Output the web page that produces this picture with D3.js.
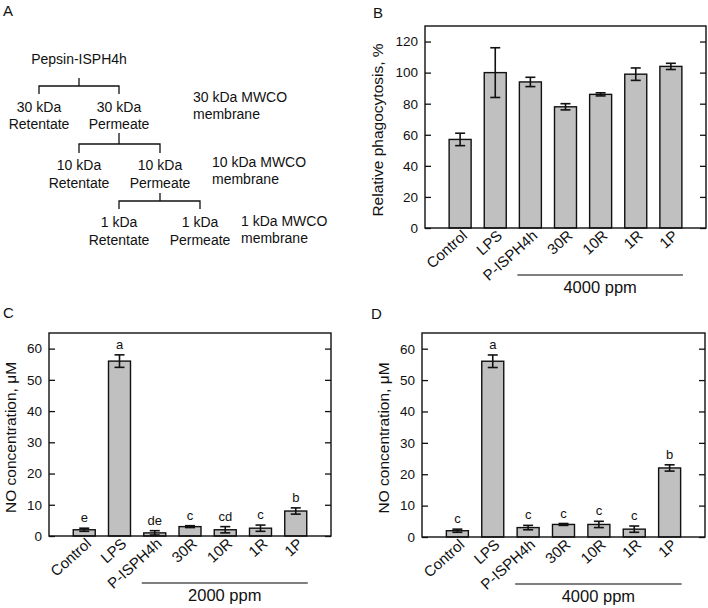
<!DOCTYPE html>
<html>
<head>
<meta charset="utf-8">
<script src="https://cdn.jsdelivr.net/npm/d3@7"></script>
<style>
  body { margin: 0; background: #ffffff; }
  svg text { font-family: "Liberation Sans", Arial, sans-serif; fill: #111; }
</style>
</head>
<body>
<div id="chart"></div>
<script>
// categories shared by panels B, C, D
const categories = ['Control', 'LPS', 'P-ISPH4h', '30R', '10R', '1R', '1P'];

// panel B: relative phagocytosis (%)
const phagoMean = [57, 100, 94, 78, 86, 99, 104];
const phagoErr = [4, 16, 3, 2, 1, 4, 2];
const phagoTicks = [0, 20, 40, 60, 80, 100, 120];

// panel C: NO concentration at 2000 ppm (uM)
const no2000Mean = [2, 56, 1, 3, 2, 2.5, 8];
const no2000Err = [0.5, 2, 0.7, 0.3, 1, 1, 1];
const no2000Letters = ['e', 'a', 'de', 'c', 'cd', 'c', 'b'];

// panel D: NO concentration at 4000 ppm (uM)
const no4000Mean = [2, 56, 3, 4, 4, 2.5, 22];
const no4000Err = [0.5, 2, 0.7, 0.3, 1, 1, 1];
const no4000Letters = ['c', 'a', 'c', 'c', 'c', 'c', 'b'];

const noTicks = [0, 10, 20, 30, 40, 50, 60];

// panel A: fractionation scheme
const splitLevels = [
  { parent: 'Pepsin-ISPH4h', left: ['30 kDa', 'Retentate'], right: ['30 kDa', 'Permeate'], membrane: ['30 kDa MWCO', 'membrane'] },
  { left: ['10 kDa', 'Retentate'], right: ['10 kDa', 'Permeate'], membrane: ['10 kDa MWCO', 'membrane'] },
  { left: ['1 kDa', 'Retentate'], right: ['1 kDa', 'Permeate'], membrane: ['1 kDa MWCO', 'membrane'] }
];

(function() {
  'use strict';

  const svg = d3.select('#chart').append('svg')
    .attr('width', 708)
    .attr('height', 608)
    .style('background', '#ffffff');

  /**
   * Panel label (A, B, C, D)
   */
  function panelLabel(txt, x, y) {
    svg.append('text')
      .attr('x', x).attr('y', y)
      .attr('font-size', 15)
      .text(txt);
  }

  /**
   * Panel A: tree of membrane fractions
   */
  function drawScheme() {
    const g = svg.append('g');
    // geometry for each split: stem x, stem top, bar y, left x, right x
    const geo = [
      { stem: 79, top: 78, bar: 86, lx: 39, rx: 119, drop: 94, row: 111.5, memX: 193, memY: 102 },
      { stem: 119, top: 133, bar: 144, lx: 79, rx: 160, drop: 153, row: 170, memX: 212, memY: 167 },
      { stem: 160, top: 193, bar: 201, lx: 119, rx: 200, drop: 209, row: 227, memX: 241, memY: 226 }
    ];

    g.append('text')
      .attr('x', geo[0].stem).attr('y', 64)
      .attr('text-anchor', 'middle')
      .attr('font-size', 14)
      .text(splitLevels[0].parent);

    splitLevels.forEach(function(level, i) {
      const p = geo[i];
      const line = d3.line();
      g.append('path')
        .attr('d', line([[p.stem, p.top], [p.stem, p.bar]]))
        .attr('stroke', '#111').attr('stroke-width', 1.3).attr('fill', 'none');
      g.append('path')
        .attr('d', line([[p.lx, p.drop], [p.lx, p.bar], [p.rx, p.bar], [p.rx, p.drop]]))
        .attr('stroke', '#111').attr('stroke-width', 1.3).attr('fill', 'none');

      [[p.lx, level.left], [p.rx, level.right]].forEach(function(d) {
        const t = g.append('text')
          .attr('text-anchor', 'middle')
          .attr('font-size', 14);
        d[1].forEach(function(s, k) {
          t.append('tspan').attr('x', d[0]).attr('y', p.row + k * 17.5).text(s);
        });
      });

      const m = g.append('text').attr('font-size', 14);
      level.membrane.forEach(function(s, k) {
        m.append('tspan').attr('x', p.memX).attr('y', p.memY + k * 16.5).text(s);
      });
    });
  }

  /**
   * Bar chart panel with error bars
   */
  function drawBars(cfg) {
    const g = svg.append('g');
    const x = d3.scaleLinear().domain([0, categories.length + 1]).range([cfg.left, cfg.right]);
    const y = d3.scaleLinear().domain(cfg.domain).range([cfg.bottom, cfg.top]);
    const barW = 22;

    // inward ticks on both sides
    g.append('g')
      .attr('transform', `translate(${cfg.left},0)`)
      .call(d3.axisLeft(y).tickValues(cfg.ticks).tickSize(-6).tickPadding(7))
      .call(a => a.select('.domain').remove())
      .call(a => a.selectAll('line').attr('stroke', '#111').attr('stroke-width', 1.3))
      .call(a => a.selectAll('text')
        .attr('font-size', 13.5)
        .attr('font-family', '"Liberation Sans", Arial, sans-serif')
        .attr('fill', '#111'));

    g.append('g')
      .attr('transform', `translate(${cfg.right},0)`)
      .call(d3.axisRight(y).tickValues(cfg.ticks).tickSize(-6).tickFormat(''))
      .call(a => a.select('.domain').remove())
      .call(a => a.selectAll('line').attr('stroke', '#111').attr('stroke-width', 1.3));

    // bars
    g.selectAll('rect.bar')
      .data(cfg.mean)
      .enter()
      .append('rect')
      .attr('class', 'bar')
      .attr('x', (d, i) => x(i + 1) - barW / 2)
      .attr('y', d => y(d))
      .attr('width', barW)
      .attr('height', d => y(0) - y(d))
      .attr('fill', '#c0c0c0')
      .attr('stroke', '#111')
      .attr('stroke-width', 1.4);

    // error bars
    const eb = g.selectAll('g.err')
      .data(cfg.mean)
      .enter()
      .append('g')
      .attr('class', 'err');
    eb.append('line')
      .attr('x1', (d, i) => x(i + 1)).attr('x2', (d, i) => x(i + 1))
      .attr('y1', (d, i) => y(d - cfg.err[i]))
      .attr('y2', (d, i) => y(d + cfg.err[i]));
    eb.append('line')
      .attr('x1', (d, i) => x(i + 1) - 5).attr('x2', (d, i) => x(i + 1) + 5)
      .attr('y1', (d, i) => y(d - cfg.err[i]))
      .attr('y2', (d, i) => y(d - cfg.err[i]));
    eb.append('line')
      .attr('x1', (d, i) => x(i + 1) - 5).attr('x2', (d, i) => x(i + 1) + 5)
      .attr('y1', (d, i) => y(d + cfg.err[i]))
      .attr('y2', (d, i) => y(d + cfg.err[i]));
    eb.selectAll('line').attr('stroke', '#111').attr('stroke-width', 1.6);

    // significance letters
    if (cfg.letters) {
      g.selectAll('text.sig')
        .data(cfg.letters)
        .enter()
        .append('text')
        .attr('class', 'sig')
        .attr('x', (d, i) => x(i + 1))
        .attr('y', (d, i) => y(cfg.mean[i] + cfg.err[i]) - 6)
        .attr('text-anchor', 'middle')
        .attr('font-size', 13)
        .text(d => d);
    }

    // frame
    g.append('rect')
      .attr('x', cfg.left).attr('y', cfg.top)
      .attr('width', cfg.right - cfg.left)
      .attr('height', cfg.bottom - cfg.top)
      .attr('fill', 'none')
      .attr('stroke', '#111')
      .attr('stroke-width', 1.4);

    // rotated category labels (explicit matrix, 42 degrees up)
    const ang = -42 * Math.PI / 180;
    const ca = Math.cos(ang), sa = Math.sin(ang);
    g.selectAll('text.cat')
      .data(categories)
      .enter()
      .append('text')
      .attr('class', 'cat')
      .attr('text-anchor', 'end')
      .attr('font-size', 15)
      .attr('transform', (d, i) =>
        'matrix(' + [ca, sa, -sa, ca, x(i + 1) + 8, cfg.bottom + 9].map(v => v.toFixed(4)).join(' ') + ')')
      .text(d => d);

    // y axis title
    g.append('text')
      .attr('transform', `translate(${cfg.titleX},${(cfg.top + cfg.bottom) / 2 + 3}) rotate(-90)`)
      .attr('text-anchor', 'middle')
      .attr('font-size', 15.5)
      .text(cfg.title);

    // dose bracket under treated samples
    g.append('line')
      .attr('x1', x(3) - 13).attr('x2', x(7) + 12)
      .attr('y1', cfg.bottom + 47).attr('y2', cfg.bottom + 47)
      .attr('stroke', '#555').attr('stroke-width', 1.5);
    g.append('text')
      .attr('x', (x(3) - 13 + x(7) + 12) / 2)
      .attr('y', cfg.bottom + 65)
      .attr('text-anchor', 'middle')
      .attr('font-size', 16.5)
      .text(cfg.dose);
  }

  panelLabel('A', 3, 16);
  drawScheme();

  panelLabel('B', 373, 18);
  drawBars({
    left: 425, right: 706, top: 26, bottom: 228,
    domain: [0, 130], ticks: phagoTicks,
    mean: phagoMean, err: phagoErr,
    title: 'Relative phagocytosis, %', titleX: 383,
    dose: '4000 ppm'
  });

  panelLabel('C', 3, 318);
  drawBars({
    left: 49, right: 331, top: 333, bottom: 536,
    domain: [0, 65], ticks: noTicks,
    mean: no2000Mean, err: no2000Err, letters: no2000Letters,
    title: 'NO concentration, \u03bcM', titleX: 16,
    dose: '2000 ppm'
  });

  panelLabel('D', 371, 319);
  drawBars({
    left: 422, right: 705, top: 333, bottom: 537,
    domain: [0, 65], ticks: noTicks,
    mean: no4000Mean, err: no4000Err, letters: no4000Letters,
    title: 'NO concentration, \u03bcM', titleX: 389,
    dose: '4000 ppm'
  });
})();
</script>
</body>
</html>
